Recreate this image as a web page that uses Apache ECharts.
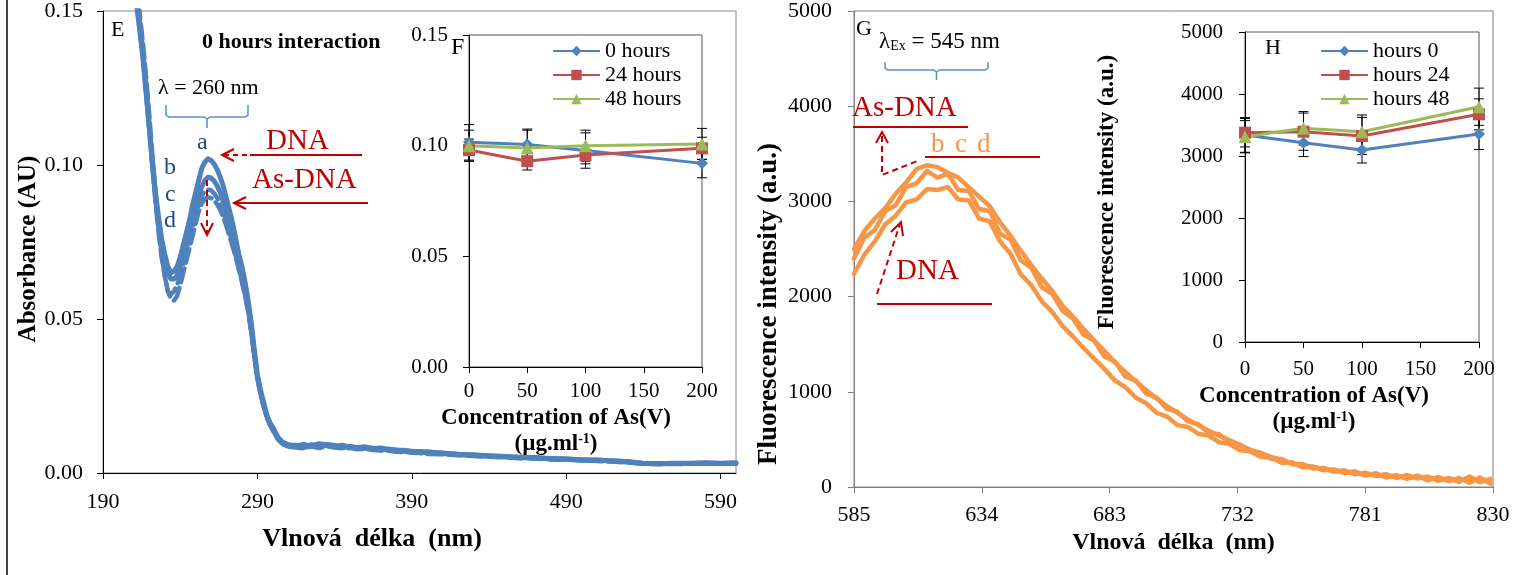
<!DOCTYPE html>
<html>
<head>
<meta charset="utf-8">
<script src="https://cdn.jsdelivr.net/npm/echarts@6/dist/echarts.min.js"></script>
<style>
  html, body { margin: 0; padding: 0; background: #fff; }
  #container { width: 1537px; height: 575px; }
</style>
</head>
<body>
<div id="container"></div>
<script>
// UV spectra (panel E) - wavelength in nm
var E_X = [210,212,214,216,218,220,222,224,226,228,230,232,234,236,238,240,242,244,246,248,250,252,254,256,258,260,262,264,266,268,270,272,274,276,278,280,282,284,286,288,290,292,294,296,298,300,302,304,306,308,310,
  315,320,325,330,335,340,345,350,355,360,365,370,375,380,385,390,395,400,
  410,420,430,440,450,460,470,480,490,500,510,520,530,540,550,560,570,580,590,600];
var E_A = [0.160,0.151,0.143,0.134,0.123,0.112,0.101,0.091,0.083,0.076,0.071,0.067,0.065,0.0655,0.067,0.070,0.074,0.078,0.082,0.087,0.091,0.095,0.099,0.101,0.102,0.1015,0.1003,0.0985,0.096,0.093,0.089,0.085,0.081,0.076,0.071,0.067,0.062,0.056,0.049,0.040,0.032,0.027,0.023,0.019,0.0165,0.0148,0.0128,0.0112,0.0102,0.0096,0.0092,
  0.0088,0.0093,0.0087,0.0095,0.0091,0.0086,0.0090,0.0084,0.0083,0.0085,0.0079,0.0081,0.0076,0.0075,0.0072,0.0071,0.0068,0.0069,
  0.0064,0.0061,0.0058,0.0056,0.0053,0.0051,0.0049,0.0047,0.0045,0.0043,0.0041,0.0040,0.0036,0.0032,0.0030,0.0032,0.0031,0.0033,0.0032,0.0033];
var E_B = [0.161,0.152,0.144,0.135,0.124,0.112,0.100,0.090,0.081,0.074,0.069,0.065,0.063,0.063,0.064,0.067,0.070,0.074,0.078,0.082,0.086,0.090,0.093,0.095,0.096,0.0958,0.0948,0.0932,0.091,0.088,0.085,0.081,0.077,0.073,0.069,0.065,0.060,0.054,0.047,0.039,0.031,0.026,0.022,0.0185,0.016,0.0142,0.0124,0.0108,0.0099,0.0093,0.0089,
  0.0090,0.0085,0.0092,0.0088,0.0093,0.0089,0.0085,0.0087,0.0081,0.0082,0.0080,0.0077,0.0078,0.0073,0.0074,0.0069,0.0070,0.0066,
  0.0065,0.0060,0.0059,0.0055,0.0054,0.0050,0.0050,0.0046,0.0046,0.0042,0.0042,0.0039,0.0037,0.0031,0.0031,0.0031,0.0032,0.0032,0.0031,0.0032];
var E_C = [0.163,0.155,0.146,0.137,0.126,0.113,0.100,0.088,0.078,0.070,0.064,0.059,0.058,0.059,0.061,0.064,0.068,0.072,0.076,0.080,0.084,0.087,0.090,0.0915,0.092,0.0918,0.0908,0.0893,0.0872,0.0845,0.0815,0.078,0.0745,0.0705,0.0665,0.0625,0.058,0.053,0.046,0.038,0.031,0.026,0.0218,0.0182,0.0158,0.0138,0.0120,0.0105,0.0096,0.0090,0.0086,
  0.0086,0.0082,0.0089,0.0084,0.0090,0.0085,0.0082,0.0084,0.0079,0.0080,0.0077,0.0075,0.0074,0.0071,0.0070,0.0067,0.0067,0.0064,
  0.0062,0.0059,0.0056,0.0054,0.0052,0.0049,0.0048,0.0045,0.0044,0.0041,0.0040,0.0038,0.0035,0.0030,0.0029,0.0030,0.0030,0.0031,0.0030,0.0031];
var E_D = [0.165,0.157,0.148,0.139,0.128,0.116,0.103,0.091,0.080,0.071,0.064,0.059,0.0565,0.056,0.0575,0.061,0.065,0.069,0.073,0.077,0.081,0.085,0.0875,0.089,0.0895,0.0893,0.0885,0.0872,0.0853,0.0828,0.080,0.0768,0.0735,0.070,0.066,0.062,0.0575,0.0525,0.046,0.038,0.0312,0.0262,0.022,0.0185,0.016,0.014,0.0122,0.0106,0.0096,0.0089,0.0085,
  0.0083,0.0080,0.0086,0.0081,0.0087,0.0083,0.0080,0.0081,0.0077,0.0078,0.0075,0.0073,0.0072,0.0069,0.0068,0.0066,0.0065,0.0062,
  0.0061,0.0058,0.0055,0.0053,0.0051,0.0048,0.0047,0.0044,0.0043,0.0041,0.0039,0.0037,0.0034,0.0030,0.0029,0.0029,0.0030,0.0030,0.0030,0.0030];

// fluorescence spectra (panel G)
var G_X = [585,589,593,597,601,605,609,613,617,621,625,629,633,637,641,645,649,653,657,661,665,669,673,677,681,685,689,693,697,701,705,709,713,717,721,725,729,733,737,741,745,749,753,757,761,765,769,773,777,781,785,789,793,797,801,805,809,813,817,821,825,829];
var G_DNA = [2240,2440,2580,2760,2850,2990,3020,3130,3120,3150,3020,3010,2820,2790,2580,2450,2230,2120,1950,1840,1690,1580,1460,1350,1240,1120,1050,940,880,780,740,650,630,560,540,470,450,385,375,315,310,255,260,205,215,175,185,145,165,120,145,100,125,85,120,70,105,60,95,45,100,35];
var G_B = [2400,2620,2700,2900,2960,3150,3190,3320,3250,3290,3120,3110,2920,2900,2660,2600,2380,2300,2100,2030,1850,1770,1600,1540,1370,1320,1160,1120,980,940,820,790,690,660,570,555,465,445,375,360,295,295,240,240,195,200,160,175,135,150,115,135,95,125,90,110,65,95,55,110,50,85];
var G_D = [2500,2690,2820,2930,3080,3200,3340,3380,3360,3300,3250,3150,3050,2950,2780,2640,2480,2330,2190,2060,1900,1790,1660,1540,1430,1310,1210,1110,1020,930,850,780,710,650,590,540,490,440,390,355,315,285,250,230,210,190,175,160,150,140,130,120,112,105,100,95,88,82,78,75,70,68];

// insets F and H
var CONC = [0, 50, 100, 200];
var F_0H = [0.1015, 0.1005, 0.0978, 0.0920];
var F_24H = [0.0980, 0.0930, 0.0958, 0.0988];
var F_48H = [0.1000, 0.0990, 0.1000, 0.1008];
var F_ERR_0H = [0.008, 0.007, 0.008, 0.0065];
var F_ERR_24H = [0.005, 0.004, 0.004, 0.005];
var F_ERR_48H = [0.007, 0.008, 0.007, 0.007];

var H_0 = [3340, 3215, 3097, 3355];
var H_24 = [3376, 3392, 3323, 3672];
var H_48 = [3311, 3446, 3392, 3795];
var H_ERR_0 = [280, 225, 210, 250];
var H_ERR_24 = [230, 300, 300, 250];
var H_ERR_48 = [260, 270, 270, 300];

var E_OFF = 190, G_OFF = 585;
var SERIF = 'Liberation Serif';
var BLUE = '#4F81BD', RED = '#C0504D', GREEN = '#9BBB59', ORANGE = '#F79646', DRED = '#C00000';

var dom = document.getElementById('container');
var myChart = echarts.init(dom);

function pairs(xs, ys, off) {
  return xs.map(function (x, i) { return [x - off, ys[i]]; });
}
function errs(xs, ys, es) {
  return xs.map(function (x, i) { return [x, ys[i] - es[i], ys[i] + es[i]]; });
}
function errRender(params, api) {
  var x = api.value(0);
  var top = api.coord([x, api.value(2)]);
  var bot = api.coord([x, api.value(1)]);
  var w = 5;
  var st = { stroke: '#000', lineWidth: 1 };
  return {
    type: 'group',
    children: [
      { type: 'line', shape: { x1: top[0], y1: top[1], x2: bot[0], y2: bot[1] }, style: st },
      { type: 'line', shape: { x1: top[0] - w, y1: top[1], x2: top[0] + w, y2: top[1] }, style: st },
      { type: 'line', shape: { x1: bot[0] - w, y1: bot[1], x2: bot[0] + w, y2: bot[1] }, style: st }
    ]
  };
}
function errSeries(xi, yi, data) {
  return { type: 'custom', xAxisIndex: xi, yAxisIndex: yi, renderItem: errRender, data: data, z: 3, silent: true };
}
function spec(name, xi, data, color, width, dash) {
  return {
    name: name, type: 'line', xAxisIndex: xi, yAxisIndex: xi, data: data,
    showSymbol: false, symbol: 'none', clip: true,
    lineStyle: { color: color, width: width, type: dash || 'solid', cap: 'round', join: 'round' }
  };
}
function inset(name, xi, data, color, symbol, size) {
  return {
    name: name, type: 'line', xAxisIndex: xi, yAxisIndex: xi, data: data,
    symbol: symbol, symbolSize: size, z: 4,
    itemStyle: { color: color },
    lineStyle: { color: color, width: 3 }
  };
}
function txt(x, y, s, size, color, bold) {
  return { type: 'text', x: x, y: y, z: 10, style: { text: s, fill: color || '#000', fontFamily: SERIF, fontSize: size, fontWeight: bold ? 'bold' : 'normal' } };
}
function seg(pts, color, width, dash) {
  return { type: 'polyline', z: 10, shape: { points: pts }, style: { stroke: color, lineWidth: width || 2, fill: null, lineDash: dash || null } };
}
// curly brace drawn as two polylines
function brace(x1, x2, y, h, d) {
  var m = (x1 + x2) / 2;
  return [
    seg([[x1, y], [x1, y + h - 2], [x1 + 3, y + h], [m - 3, y + h], [m, y + h + 2], [m, y + h + d]], '#5B8FCB', 1.5),
    seg([[m, y + h + 2], [m + 3, y + h], [x2 - 3, y + h], [x2, y + h - 2], [x2, y]], '#5B8FCB', 1.5)
  ];
}
function plain(v) { return String(v); }

var axisFont = { fontFamily: SERIF, fontSize: 22, color: '#000' };
var insetFont = { fontFamily: SERIF, fontSize: 21, color: '#000' };
function bold(size) { return { fontFamily: SERIF, fontSize: size, fontWeight: 'bold', color: '#000' }; }
var concName = '{b|Concentration of As(V)}\n{b|(µg.ml}{s|-1}{b|)}';
var concRich = {
  b: { fontFamily: SERIF, fontSize: 23, fontWeight: 'bold', color: '#000', lineHeight: 26 },
  s: { fontFamily: SERIF, fontSize: 14, fontWeight: 'bold', color: '#000', lineHeight: 26, padding: [0, 0, 10, 0] }
};

function valAxis(gi, opt) {
  var base = { type: 'value', gridIndex: gi, splitLine: { show: false }, axisLine: { show: true, lineStyle: { color: '#000', width: 1 } }, axisTick: { show: true, length: 6, lineStyle: { color: '#000' } } };
  return Object.assign(base, opt);
}

var option = {
  animation: false,
  backgroundColor: '#fff',
  grid: [
    { left: 103, top: 10, width: 633, height: 463, show: true, borderColor: '#888', borderWidth: 1, backgroundColor: 'transparent' },
    { left: 469, top: 35, width: 233, height: 332, show: true, borderColor: '#555', borderWidth: 1, backgroundColor: 'transparent' },
    { left: 854, top: 10, width: 639, height: 477, show: true, borderColor: '#808080', borderWidth: 1, backgroundColor: 'transparent' },
    { left: 1245, top: 32, width: 234, height: 310, show: true, borderColor: '#555', borderWidth: 1, backgroundColor: 'transparent' }
  ],
  xAxis: [
    valAxis(0, { min: 0, max: 410, interval: 100, axisLabel: Object.assign({ margin: 18, showMaxLabel: false, formatter: function (v) { return v + E_OFF; } }, axisFont),
      name: 'Vlnová  délka  (nm)', nameLocation: 'middle', nameGap: 53, nameTextStyle: Object.assign({ padding: [0, 95, 0, 0] }, bold(26)) }),
    valAxis(1, { min: 0, max: 200, interval: 50, axisLabel: Object.assign({ margin: 14 }, insetFont),
      name: concName, nameLocation: 'middle', nameGap: 34, nameTextStyle: { padding: [0, 59, 0, 0], rich: concRich } }),
    valAxis(2, { min: 0, max: 245, interval: 49, axisLine: { show: true, lineStyle: { color: '#808080' } }, axisTick: { show: true, length: 6, lineStyle: { color: '#808080' } },
      axisLabel: Object.assign({ margin: 17, formatter: function (v) { return v + G_OFF; } }, axisFont),
      name: 'Vlnová  délka  (nm)', nameLocation: 'middle', nameGap: 40, nameTextStyle: bold(24) }),
    valAxis(3, { min: 0, max: 200, interval: 50, axisLabel: Object.assign({ margin: 17 }, insetFont),
      name: concName, nameLocation: 'middle', nameGap: 27, nameTextStyle: { padding: [0, 96, 0, 0], rich: concRich } })
  ],
  yAxis: [
    valAxis(0, { min: 0, max: 0.15, interval: 0.05, axisLabel: Object.assign({ margin: 20, formatter: function (v) { return v.toFixed(2); } }, axisFont),
      name: 'Absorbance (AU)', nameLocation: 'middle', nameGap: 62, nameTextStyle: Object.assign({ padding: [0, 14, 0, 0] }, bold(25)) }),
    valAxis(1, { min: 0, max: 0.15, interval: 0.05, axisLabel: Object.assign({ margin: 21, formatter: function (v) { return v.toFixed(2); } }, insetFont) }),
    valAxis(2, { min: 0, max: 5000, interval: 1000, axisLine: { show: true, lineStyle: { color: '#808080' } }, axisTick: { show: true, length: 6, lineStyle: { color: '#808080' } },
      axisLabel: Object.assign({ margin: 22, formatter: plain }, axisFont),
      name: 'Fluorescence intensity (a.u.)', nameLocation: 'middle', nameGap: 71, nameTextStyle: Object.assign({ padding: [0, 110, 0, 0] }, bold(27)) }),
    valAxis(3, { min: 0, max: 5000, interval: 1000, axisLabel: Object.assign({ margin: 22, formatter: plain }, insetFont),
      name: 'Fluorescence intensity (a.u.)', nameLocation: 'middle', nameGap: 126, nameTextStyle: Object.assign({ padding: [0, 10, 0, 0] }, bold(23)) })
  ],
  legend: [
    { orient: 'vertical', left: 547, top: 35, itemWidth: 47, itemHeight: 13, itemGap: 2, data: ['0 hours', '24 hours', '48 hours'], textStyle: { fontFamily: SERIF, fontSize: 22, color: '#000' } },
    { orient: 'vertical', left: 1315, top: 35, itemWidth: 47, itemHeight: 13, itemGap: 2, data: ['hours 0', 'hours 24', 'hours 48'], textStyle: { fontFamily: SERIF, fontSize: 22, color: '#000' } }
  ],
  series: [
    spec('a', 0, pairs(E_X, E_A, E_OFF), BLUE, 5),
    spec('b', 0, pairs(E_X, E_B, E_OFF), BLUE, 5),
    spec('c', 0, pairs(E_X, E_C, E_OFF), BLUE, 4.5, [14, 6]),
    spec('d', 0, pairs(E_X, E_D, E_OFF), BLUE, 4.5, [14, 6]),
    spec('DNA', 2, pairs(G_X, G_DNA, G_OFF), ORANGE, 4.5),
    spec('As-DNA b', 2, pairs(G_X, G_B, G_OFF), ORANGE, 4.5),
    spec('As-DNA d', 2, pairs(G_X, G_D, G_OFF), ORANGE, 4.5),
    errSeries(1, 1, errs(CONC, F_0H, F_ERR_0H)),
    errSeries(1, 1, errs(CONC, F_24H, F_ERR_24H)),
    errSeries(1, 1, errs(CONC, F_48H, F_ERR_48H)),
    inset('0 hours', 1, pairs(CONC, F_0H, 0), BLUE, 'diamond', 12),
    inset('24 hours', 1, pairs(CONC, F_24H, 0), RED, 'rect', 12),
    inset('48 hours', 1, pairs(CONC, F_48H, 0), GREEN, 'triangle', 13),
    errSeries(3, 3, errs(CONC, H_0, H_ERR_0)),
    errSeries(3, 3, errs(CONC, H_24, H_ERR_24)),
    errSeries(3, 3, errs(CONC, H_48, H_ERR_48)),
    inset('hours 0', 3, pairs(CONC, H_0, 0), BLUE, 'diamond', 12),
    inset('hours 24', 3, pairs(CONC, H_24, 0), RED, 'rect', 12),
    inset('hours 48', 3, pairs(CONC, H_48, 0), GREEN, 'triangle', 13)
  ],
  graphic: [].concat(
    [
      // figure frame on the left
      seg([[7, 0], [7, 575]], '#000', 1.5),
      // panel E notes
      txt(111, 19, 'E', 22),
      txt(202, 31, '0 hours interaction', 22, '#000', true),
      txt(158, 77, 'λ = 260 nm', 22)
    ],
    brace(166, 248, 105, 12, 11),
    [
      txt(197, 131, 'a', 24, '#1F497D'),
      txt(164, 156, 'b', 24, '#1F497D'),
      txt(165, 183, 'c', 24, '#1F497D'),
      txt(164, 209, 'd', 24, '#1F497D'),
      txt(266, 127, 'DNA', 29, DRED),
      seg([[250, 155], [362, 155]], DRED, 2),
      seg([[224, 155], [250, 155]], DRED, 2, [5, 4]),
      seg([[234, 149], [222, 155], [234, 161]], DRED, 2),
      txt(252, 166, 'As-DNA', 29, DRED),
      seg([[234, 203], [368, 203]], DRED, 2),
      seg([[246, 197], [234, 203], [246, 209]], DRED, 2),
      seg([[207, 180], [207, 233]], DRED, 2, [6, 4]),
      seg([[201, 223], [207, 235], [213, 223]], DRED, 2),
      // panel F label
      txt(451, 36, 'F', 24),
      // panel G notes
      txt(856, 18, 'G', 22),
      { type: 'text', x: 879, y: 30, z: 10, style: { text: '{l|λ}{s|Ex}{l| = 545 nm}', rich: { l: { fontFamily: SERIF, fontSize: 23, fill: '#000' }, s: { fontFamily: SERIF, fontSize: 14, fill: '#000', padding: [9, 0, 0, 0] } } } }
    ],
    brace(885, 988, 62, 8, 10),
    [
      txt(852, 94, 'As-DNA', 29, DRED),
      seg([[853, 127], [968, 127]], DRED, 2),
      txt(931, 131, 'b', 27, ORANGE),
      txt(955, 131, 'c', 27, ORANGE),
      txt(977, 131, 'd', 27, ORANGE),
      seg([[925, 157], [1040, 157]], DRED, 2),
      seg([[882, 136], [882, 175], [920, 160]], DRED, 2, [6, 4]),
      seg([[876, 143], [882, 132], [888, 143]], DRED, 2),
      txt(896, 257, 'DNA', 29, DRED),
      seg([[877, 304], [992, 304]], DRED, 2),
      seg([[877, 294], [900, 224]], DRED, 2, [6, 4]),
      seg([[891, 232], [901, 222], [903, 236]], DRED, 2),
      // panel H label
      txt(1265, 37, 'H', 22)
    ]
  )
};

if (option && typeof option === 'object') {
  myChart.setOption(option, true);
}
</script>
</body>
</html>
